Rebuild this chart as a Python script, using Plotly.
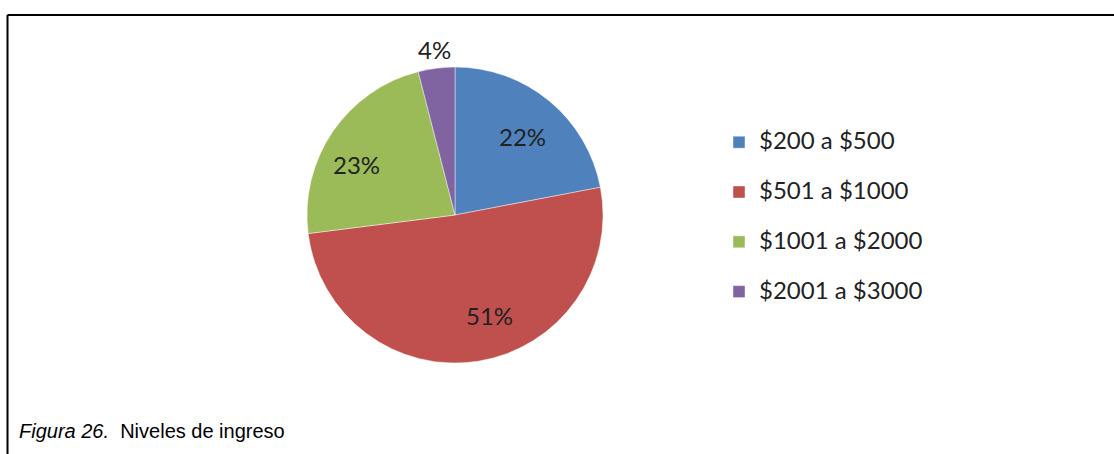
import math
import plotly.graph_objects as go

# Income brackets and their share of respondents (percent)
categories = ["$200 a $500", "$501 a $1000", "$1001 a $2000", "$2001 a $3000"]
shares = [22, 51, 23, 4]
colors = ["#4F81BD", "#C0504D", "#9BBB59", "#8064A2"]
caption = "<i>Figura 26.</i>\u00a0 Niveles de ingreso"

# percentage label placement: radius as a fraction of the pie radius,
# plus a small angular nudge (degrees) off each slice's bisector
label_radius = [0.70, 0.72, 0.745, 1.13]
label_nudge = [1.0, -10.0, -7.0, 0.0]

W, H = 1114, 454
CX, CY, R = 455, 215, 148  # pie centre and radius in pixels

# legend rows are two lines tall (second line blank) to give roomy spacing
legend_labels = [f'<span style="font-size:24px">{c}</span><br> ' for c in categories]

fig = go.Figure(
    go.Pie(
        labels=legend_labels,
        values=shares,
        sort=False,
        direction="clockwise",
        rotation=0,
        marker=dict(colors=colors, line=dict(color="rgba(255,255,255,0.55)", width=0.8)),
        textinfo="none",
        hoverinfo="label+percent",
        domain=dict(x=[(CX - R) / W, (CX + R) / W],
                    y=[(H - CY - R) / H, (H - CY + R) / H]),
    )
)

# percentage labels placed around the slice bisectors, computed from the shares
total = sum(shares)
annotations = []
start = 0.0
for v, rf, nudge in zip(shares, label_radius, label_nudge):
    frac = v / total
    mid = 360.0 * (start + frac / 2) + nudge  # clockwise from 12 o'clock
    start += frac
    a = math.radians(mid)
    px = CX + rf * R * math.sin(a)
    py = CY - rf * R * math.cos(a)
    annotations.append(dict(
        text=f"{round(100 * frac)}%", xref="paper", yref="paper",
        x=px / W, y=(H - py) / H, xanchor="center", yanchor="middle",
        showarrow=False,
        font=dict(family="Lato", size=24, color="#222222"),
    ))

annotations.append(dict(
    text=caption, xref="paper", yref="paper",
    x=17 / W, y=(H - 431) / H, xanchor="left", yanchor="middle",
    showarrow=False,
    font=dict(family="Liberation Sans, Arial", size=20, color="black"),
))

fig.update_layout(
    width=W,
    height=H,
    margin=dict(l=0, r=0, t=0, b=0),
    paper_bgcolor="white",
    plot_bgcolor="white",
    showlegend=True,
    legend=dict(
        x=719 / W, xanchor="left",
        y=(H - 124) / H, yanchor="top",
        font=dict(family="Lato", size=18, color="#222222"),
        valign="top",
        bgcolor="rgba(0,0,0,0)",
    ),
    shapes=[
        dict(type="line", xref="paper", yref="paper",
             x0=7.5 / W, x1=1.0, y0=(H - 15) / H, y1=(H - 15) / H,
             line=dict(color="black", width=2)),
        dict(type="line", xref="paper", yref="paper",
             x0=7.5 / W, x1=7.5 / W, y0=0.0, y1=(H - 15) / H,
             line=dict(color="black", width=2)),
    ],
    annotations=annotations,
)

fig.write_html("out.html")
